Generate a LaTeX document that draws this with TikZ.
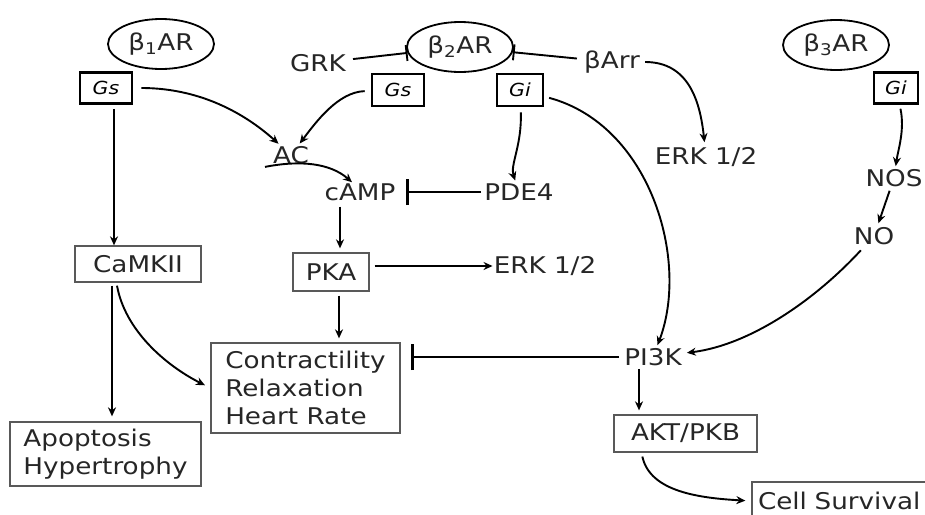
\documentclass[tikz,border=0pt]{standalone}
\usepackage{fontspec}
\setmainfont[FakeStretch=1.14]{DejaVu Sans}
\usetikzlibrary{shapes.geometric,arrows.meta}
\begin{document}
\begin{tikzpicture}[x=1pt,y=-1pt,
  lbl/.style={font=\fontsize{23}{27}\selectfont, inner sep=1pt, text=black!85},
  gbox/.style={draw, line width=2.6pt, minimum width=50pt, minimum height=30pt, inner sep=0pt, font=\fontsize{18}{20}\selectfont\itshape},
  obox/.style={draw=black!65, line width=1.3pt, inner sep=0pt, font=\fontsize{23}{28}\selectfont, text=black!85},
  rec/.style={ellipse, draw, line width=1.8pt, minimum width=106pt, minimum height=50pt, inner sep=0pt, font=\fontsize{23}{27}\selectfont, text=black!85},
  arr/.style={-{Stealth[length=9pt,width=8pt]}, line width=1.9pt},
  inh/.style={-{Bar[width=16pt,line width=1.9pt]}, line width=1.9pt},
  inhb/.style={-{Bar[width=26pt,line width=3.5pt]}, line width=2pt}
]
\useasboundingbox (0,0) rectangle (925,514);
% receptors
\node[rec] (b1) at (161,44) {β\textsubscript{1}AR};
\node[rec] (b2) at (460,47) {β\textsubscript{2}AR};
\node[rec] (b3) at (836,45) {β\textsubscript{3}AR};
% G proteins
\node[gbox, minimum width=52pt, minimum height=31pt] (gs1) at (106,88) {Gs};
\node[gbox, minimum width=52pt, minimum height=32pt] (gs2) at (398,90) {Gs};
\node[gbox, minimum width=46pt, minimum height=32pt] (gi2) at (520,90) {Gi};
\node[gbox, minimum width=44pt, minimum height=31pt] (gi3) at (896,88) {Gi};
% labels
\node[lbl] (grk) at (318,63) {GRK};
\node[lbl] (barr) at (612,62) {βArr};
\node[lbl] (erk1) at (706,157) {ERK 1/2};
\node[lbl] (nos) at (894,178) {NOS};
\node[lbl] (no) at (874,236) {NO};
\node[lbl] (ac) at (291,155) {AC};
\node[lbl] (camp) at (360,192) {cAMP};
\node[lbl] (pde) at (519,192) {PDE4};
\node[lbl] (erk2) at (545,266) {ERK 1/2};
\node[lbl] (pi3k) at (653,357) {PI3K};
% boxes
\node[obox, minimum width=126pt, minimum height=36pt] (camk) at (138,264) {CaMKII};
\node[obox, minimum width=76pt, minimum height=38pt] (pka) at (331,272) {PKA};
\node[obox, minimum width=189pt, minimum height=90pt, align=left] (con) at (305.5,388) {Contractility\\Relaxation\\Heart Rate};
\node[obox, minimum width=191pt, minimum height=64pt, align=left] (apo) at (105.5,454) {Apoptosis\\Hypertrophy};
\node[obox, minimum width=143pt, minimum height=37pt] (akt) at (685.5,433.5) {AKT/PKB};
\node[obox, minimum width=178pt, minimum height=38pt, text width=166pt, align=left] (cell) at (841,501) {Cell Survival};
% connectors
\draw[arr] ([xshift=8pt,yshift=-4pt]gs1.south) -- ([xshift=8pt]gs1.south |- camk.north);
\draw[arr, shorten <=8pt, shorten >=2pt] (gs1) .. controls (205,88) and (250,118) .. (ac);
\draw[arr, shorten <=6pt, shorten >=2pt] (gs2) .. controls (338,92) and (316,122) .. (ac);
\draw[inh, shorten <=6pt] (grk) -- (b2);
\draw[inh, shorten <=6pt] (barr) -- (b2);
\draw[arr, shorten <=4pt, shorten >=4pt] (barr) .. controls (688,62) and (700,100) .. (erk1);
\draw[arr, shorten <=5pt, shorten >=2pt] (gi2) .. controls (522,145) and (510,165) .. (pde);
\draw[arr, shorten <=5pt, shorten >=2pt] (gi2) .. controls (650,125) and (690,260) .. (pi3k);
\draw[arr] ([xshift=-26pt,yshift=-2pt]ac.south) .. controls (300,160) and (330,163) .. ([xshift=-8pt]camp.north);
\draw[inhb, shorten >=9pt, shorten <=2pt] (pde.west) -- (camp.east);
\draw[arr] ([xshift=9pt,yshift=-5pt]pka.north |- camp.south) -- ([xshift=9pt,yshift=4pt]pka.north);
\draw[arr] ([xshift=5pt]pka.east |- erk2) -- (erk2.west);
\draw[arr] ([xshift=8pt,yshift=-4pt]pka.south) -- ([xshift=8pt,yshift=4pt]pka.south |- con.north);
\draw[arr] ([xshift=-26pt,yshift=-3pt]camk.south) -- ([xshift=-26pt,yshift=5pt]camk.south |- apo.north);
\draw[arr, shorten >=6pt] ([xshift=-21pt,yshift=-3pt]camk.south) .. controls (125,330) and (165,365) .. (con.west);
\draw[inhb, shorten <=4pt, shorten >=10pt] (pi3k.west) -- (pi3k.west -| con.east);
\draw[arr, shorten <=4pt, shorten >=2pt] (gi3) .. controls (905,130) and (898,150) .. (nos);
\draw[arr, shorten <=3pt, shorten >=3pt] (nos) -- (no);
\draw[arr, shorten <=6pt, shorten >=4pt] (no) .. controls (815,300) and (750,345) .. (pi3k);
\draw[arr] ([xshift=-14pt,yshift=-2pt]pi3k.south) -- ([xshift=-14pt,yshift=4pt]pi3k.south |- akt.north);
\draw[arr, shorten <=4pt, shorten >=6pt] ([xshift=-44pt]akt.south) .. controls (650,492) and (700,498) .. (cell.west);
\end{tikzpicture}
\end{document}
